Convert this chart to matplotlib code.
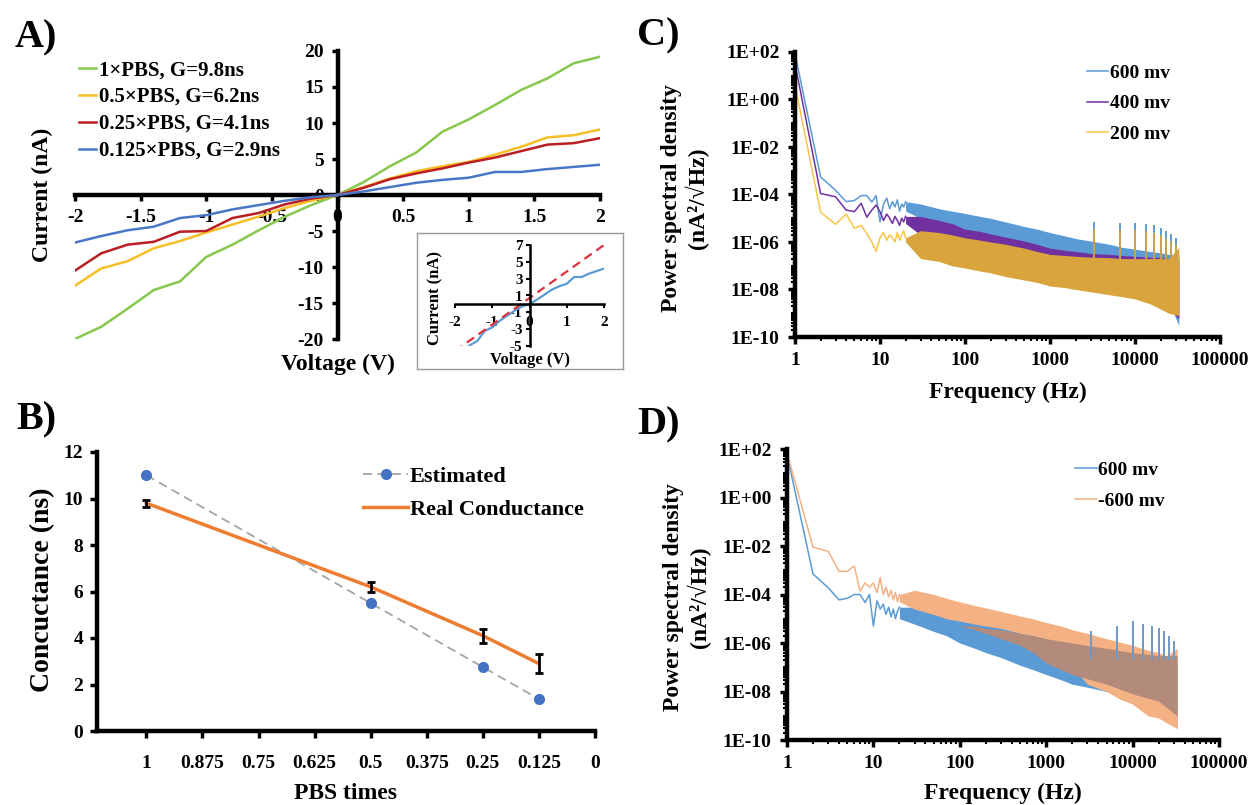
import matplotlib.pyplot as plt
import numpy as np
from matplotlib.ticker import LogLocator, NullFormatter

plt.rcParams['font.family'] = ['Liberation Serif', 'DejaVu Serif']
plt.rcParams['font.weight'] = 'bold'
plt.rcParams['axes.unicode_minus'] = False

# ---------------- A) I-V curves ----------------
volt = [-2, -1.8, -1.6, -1.4, -1.2, -1, -0.8, -0.6, -0.4, -0.2, 0,
        0.2, 0.4, 0.6, 0.8, 1, 1.2, 1.4, 1.6, 1.8, 2]
cur_1x = [-20, -18.3, -15.8, -13.2, -12.0, -8.6, -6.9, -4.9, -3.0, -1.4, 0,
          1.8, 4.0, 5.9, 8.8, 10.5, 12.5, 14.6, 16.2, 18.3, 19.2]
cur_05x = [-12.6, -10.2, -9.2, -7.4, -6.4, -5.2, -4.1, -3.0, -1.8, -0.8, 0,
           1.1, 2.3, 3.3, 4.0, 4.6, 5.6, 6.7, 8.0, 8.3, 9.1]
cur_025x = [-10.5, -8.1, -6.9, -6.5, -5.1, -5.0, -3.2, -2.5, -1.3, -0.5, 0,
            1.0, 2.2, 3.0, 3.7, 4.5, 5.2, 6.1, 7.0, 7.2, 7.9]
cur_0125x = [-6.6, -5.7, -4.9, -4.4, -3.2, -2.8, -2.0, -1.4, -0.8, -0.3, 0,
             0.5, 1.1, 1.7, 2.1, 2.4, 3.2, 3.2, 3.6, 3.9, 4.2]
iv_labels = ['1×PBS, G=9.8ns', '0.5×PBS, G=6.2ns',
             '0.25×PBS, G=4.1ns', '0.125×PBS, G=2.9ns']
iv_colors = ['#86C84E', '#F8BE25', '#BA1E22', '#4A76C6']
volt_ticks = [-2, -1.5, -1, -0.5, 0, 0.5, 1, 1.5, 2]
volt_ticklabels = ['-2', '-1.5', '-1', '-0.5', '0', '0.5', '1', '1.5', '2']
cur_ticks = [-20, -15, -10, -5, 0, 5, 10, 15, 20]

# inset: linear estimate vs 0.125xPBS
fit_volt = [-2, 2]
fit_cur = [-5.6, 7.0]
inset_xticks = [-2, -1, 0, 1, 2]
inset_yticks = [-5, -3, -1, 1, 3, 5, 7]

# ---------------- B) conductance ----------------
pbs = [1, 0.5, 0.25, 0.125]
g_est = [11, 5.5, 2.75, 1.375]
g_real = [9.8, 6.2, 4.1, 2.9]
g_err = [0.15, 0.22, 0.3, 0.4]
pbs_ticks = [1, 0.875, 0.75, 0.625, 0.5, 0.375, 0.25, 0.125, 0]
pbs_ticklabels = ['1', '0.875', '0.75', '0.625', '0.5', '0.375', '0.25', '0.125', '0']

# ---------------- C/D) power spectral density ----------------
f_low = list(range(1, 21))
c600_low = [85, 5.5e-4, 1.5e-4, 5e-5, 5.6e-5, 9e-5, 9e-5, 4.8e-5, 9e-5, 7e-6,
            4e-5, 7e-5, 2.5e-5, 5e-5, 3e-5, 6e-5, 2e-5, 4e-5, 3e-5, 5e-5]
c400_low = [32, 1.1e-4, 8e-5, 2.2e-5, 1.9e-5, 4.3e-5, 1.1e-5, 2.2e-5, 3.6e-5, 1.9e-5,
            8e-6, 1.5e-5, 1e-5, 6e-6, 1.2e-5, 8e-6, 5e-6, 1e-5, 7e-6, 1.2e-5]
c200_low = [4, 1.8e-5, 5.5e-6, 1.5e-5, 3.8e-6, 5e-6, 2.3e-6, 1e-6, 4e-7, 1.5e-6,
            2.5e-6, 1.2e-6, 2e-6, 1.5e-6, 1e-6, 2.5e-6, 1.2e-6, 2e-6, 3e-6, 1.5e-6]

# envelopes of the dense noise from 20 Hz up
band_f = [20, 30, 50, 70, 100, 150, 200, 300, 500, 700, 1000, 1500, 2000,
          3000, 5000, 7000, 10000, 15000, 20000, 25000, 32768]
c600_up = [5e-5, 4e-5, 2.5e-5, 2e-5, 1.6e-5, 1.2e-5, 1e-5, 7e-6, 4.5e-6, 3.5e-6,
           2.5e-6, 1.8e-6, 1.4e-6, 1.1e-6, 8e-7, 6e-7, 5e-7, 4e-7, 3.5e-7, 3e-7, 3e-7]
c600_lo = [2e-5, 1e-5, 6e-6, 4e-6, 3e-6, 2e-6, 1.5e-6, 1e-6, 6e-7, 4e-7,
           2e-7, 1e-7, 6e-8, 4e-8, 2.5e-8, 2e-8, 1.5e-8, 1e-8, 6e-9, 3e-9, 3e-10]
c400_up = [1.2e-5, 1.2e-5, 8e-6, 6e-6, 3.5e-6, 2.8e-6, 2.2e-6, 1.6e-6, 1.1e-6, 8e-7,
           5.5e-7, 4.5e-7, 4e-7, 3.3e-7, 3e-7, 2.7e-7, 2.5e-7, 2.3e-7, 2.2e-7, 2e-7, 2e-7]
c400_lo = [6e-6, 2e-6, 5e-7, 3e-7, 2e-7, 1.5e-7, 1.2e-7, 8e-8, 6e-8, 4e-8,
           3e-8, 2.5e-8, 2e-8, 1.6e-8, 1.2e-8, 1e-8, 8e-9, 5e-9, 3e-9, 1.5e-9, 6e-10]
c200_up = [1.5e-6, 3e-6, 2.5e-6, 2e-6, 1.5e-6, 1.2e-6, 1e-6, 8e-7, 5.5e-7, 4e-7,
           3e-7, 2.7e-7, 2.5e-7, 2.3e-7, 2.2e-7, 2e-7, 2e-7, 2e-7, 2e-7, 2e-7, 6e-7]
c200_lo = [1e-6, 2e-7, 1.5e-7, 1e-7, 8e-8, 6e-8, 5e-8, 3.5e-8, 2.5e-8, 2e-8,
           1.4e-8, 1.2e-8, 1e-8, 8e-9, 6e-9, 5e-9, 4e-9, 2.5e-9, 1.5e-9, 1e-9, 8e-10]
spike_f = [3330, 6660, 10000, 13300, 16600, 20000, 23300, 26600, 30000]
c_spike_top = [7e-6, 6.6e-6, 6.6e-6, 6e-6, 5e-6, 3.8e-6, 2.8e-6, 2.2e-6, 1.5e-6]

d600_low = [60, 7e-4, 1.9e-4, 6e-5, 7e-5, 1e-4, 1e-4, 4.7e-5, 1e-4, 5e-6,
            5.5e-5, 2.5e-5, 4e-5, 1.5e-5, 3e-5, 1.2e-5, 2.5e-5, 1e-5, 2e-5, 3e-5]
dm600_low = [70, 9e-3, 6e-3, 9e-4, 9e-4, 1.5e-3, 1.4e-4, 3e-4, 2e-4, 3e-4,
             1.2e-4, 5e-4, 1e-4, 2e-4, 8e-5, 1.5e-4, 6e-5, 1.2e-4, 5e-5, 1e-4]
d600_up = [3e-5, 3e-5, 2.5e-5, 2e-5, 1.5e-5, 1e-5, 8e-6, 5e-6, 3e-6, 2.5e-6,
           1.8e-6, 1.3e-6, 1e-6, 7e-7, 5e-7, 4e-7, 3e-7, 2.5e-7, 2e-7, 1.8e-7, 1.5e-7]
d600_lo = [1e-5, 6e-6, 3e-6, 2e-6, 1e-6, 6e-7, 4e-7, 2.5e-7, 1.2e-7, 8e-8,
           5e-8, 3e-8, 2e-8, 1.5e-8, 1e-8, 7e-9, 5e-9, 3e-9, 2e-9, 1e-9, 3e-10]
dm600_up = [1e-4, 1.5e-4, 1e-4, 7e-5, 5e-5, 3.5e-5, 2.8e-5, 2e-5, 1.3e-5, 1e-5,
            7e-6, 5e-6, 3.5e-6, 2.5e-6, 1.5e-6, 1.1e-6, 8e-7, 5e-7, 4e-7, 3e-7, 6e-7]
dm600_lo = [5e-5, 2.5e-5, 1.5e-5, 1e-5, 8e-6, 6e-6, 5e-6, 4e-6, 2.5e-6, 2e-6,
            1.5e-6, 5e-7, 1e-7, 2e-8, 1e-8, 5e-9, 3e-9, 1e-9, 8e-10, 5e-10, 3e-10]
core_f = [100, 150, 200, 300, 500, 700, 1000, 2000, 5000, 10000, 20000, 32768]
d_core_up = [5e-6, 5e-6, 4e-6, 3.5e-6, 2.5e-6, 2e-6, 1.5e-6, 1e-6, 6e-7, 4e-7, 3e-7, 3e-7]
d_core_lo = [5e-6, 3.5e-6, 2.5e-6, 1.5e-6, 8e-7, 4e-7, 1.5e-7, 5e-8, 2e-8, 8e-9, 4e-9, 1e-9]
d_spike_top = [3e-6, 5e-6, 8e-6, 6e-6, 5e-6, 4e-6, 3e-6, 2e-6, 1.2e-6]

freq_ticks = [1, 10, 100, 1000, 10000, 100000]
freq_ticklabels = ['1', '10', '100', '1000', '10000', '100000']
psd_ticks = [1e2, 1, 1e-2, 1e-4, 1e-6, 1e-8, 1e-10]
psd_ticklabels = ['1E+02', '1E+00', '1E-02', '1E-04', '1E-06', '1E-08', '1E-10']

# ---------------- figure ----------------
W, H = 1251, 805
fig = plt.figure(figsize=(W / 100, H / 100), dpi=100)


def rect(l, t, r, b):
    return [l / W, 1 - b / H, (r - l) / W, (b - t) / H]


def ftext(x, y, s, **kw):
    fig.text(x / W, 1 - y / H, s, ha='center', va='center', fontweight='bold', **kw)


# A) main I-V
axA = fig.add_axes(rect(75, 51, 600, 339))
for cur, lab, col in zip([cur_1x, cur_05x, cur_025x, cur_0125x], iv_labels, iv_colors):
    axA.plot(volt, cur, color=col, lw=1.8, label=lab, zorder=3)
axA.set_xlim(-2, 2)
axA.set_ylim(-20, 20)
axA.spines['left'].set_position(('data', 0))
axA.spines['bottom'].set_position(('data', 0))
axA.spines[['right', 'top']].set_visible(False)
axA.spines[['left', 'bottom']].set_linewidth(3.2)
axA.set_xticks(volt_ticks)
axA.set_xticklabels(volt_ticklabels)
axA.set_yticks(cur_ticks)
axA.tick_params(length=4, width=2.5, labelsize=14, pad=6)
axA.legend(loc='upper left', bbox_to_anchor=(0.008, 0.968), frameon=False, fontsize=15,
           handlelength=0.8, handletextpad=0.15, labelspacing=0.33, borderpad=0,
           borderaxespad=0)
ftext(42, 195, 'Current (nA)', rotation=90, fontsize=17)
ftext(338, 364, 'Voltage (V)', fontsize=17)
ftext(36, 38, 'A)', fontsize=29)

# inset
frame = fig.add_axes(rect(417, 233, 623, 369))
frame.set_xticks([])
frame.set_yticks([])
for s in frame.spines.values():
    s.set_color('#9A9A9A')
    s.set_linewidth(1)
axI = fig.add_axes(rect(455, 245, 604, 346))
axI.patch.set_alpha(0)
axI.plot(volt, cur_0125x, color='#5B9BD5', lw=1.6)
axI.plot(fit_volt, fit_cur, color='#E0323C', lw=1.6, ls=(0, (4, 2.5)))
axI.set_xlim(-2, 2)
axI.set_ylim(-5, 7)
axI.spines['left'].set_position(('data', 0))
axI.spines['bottom'].set_position(('data', 0))
axI.spines[['right', 'top']].set_visible(False)
axI.spines[['left', 'bottom']].set_linewidth(1.8)
axI.set_xticks(inset_xticks)
axI.set_yticks(inset_yticks)
axI.tick_params(length=3, width=1.5, labelsize=11, pad=2)
axI.tick_params(axis='x', pad=6)
ftext(435, 298, 'Current (nA)', rotation=90, fontsize=12)
ftext(530, 360, 'Voltage (V)', fontsize=12)

# B) conductance
axB = fig.add_axes(rect(97, 452, 595, 731))
axB.plot(pbs, g_est, color='#A5A5A5', lw=1.3, ls=(0, (5, 3)), marker='o', ms=7,
         mfc='#4472C4', mec='#4472C4', label='Estimated')
axB.plot(pbs, g_real, color='#ED7D31', lw=2.5, label='Real Conductance')
axB.errorbar(pbs, g_real, yerr=g_err, fmt='none', ecolor='black', elinewidth=2,
             capsize=3, capthick=2)
axB.set_xlim(1.11, 0)
axB.set_ylim(0, 12)
axB.set_xticks(pbs_ticks)
axB.set_xticklabels(pbs_ticklabels)
axB.set_yticks(range(0, 13, 2))
axB.spines[['right', 'top']].set_visible(False)
axB.spines[['left', 'bottom']].set_linewidth(3.2)
axB.tick_params(length=5, width=2.5, labelsize=14)
axB.tick_params(axis='x', pad=12)
axB.tick_params(axis='y', pad=5)
axB.legend(loc='upper left', bbox_to_anchor=(0.535, 0.95), frameon=False, fontsize=16,
           handlelength=2.0, handletextpad=0.1, labelspacing=0.57, borderpad=0,
           borderaxespad=0)
ftext(43, 590, 'Concuctance (ns)', rotation=90, fontsize=20)
ftext(346, 793, 'PBS times', fontsize=17)
ftext(36, 420, 'B)', fontsize=29)


def style_psd(ax):
    ax.set_xscale('log')
    ax.set_yscale('log')
    ax.set_xlim(1, 1e5)
    ax.set_ylim(1e-10, 1e2)
    ax.set_xticks(freq_ticks)
    ax.set_xticklabels(freq_ticklabels)
    ax.set_yticks(psd_ticks)
    ax.set_yticklabels(psd_ticklabels)
    ax.xaxis.set_minor_locator(LogLocator(base=10, subs=np.arange(2, 10), numticks=60))
    ax.yaxis.set_minor_locator(LogLocator(base=10, subs=np.arange(1, 10), numticks=200))
    ax.xaxis.set_minor_formatter(NullFormatter())
    ax.yaxis.set_minor_formatter(NullFormatter())
    ax.spines[['right', 'top']].set_visible(False)
    ax.spines[['left', 'bottom']].set_linewidth(3.2)
    ax.tick_params(which='major', length=5, width=2.5, labelsize=14, pad=6)
    ax.tick_params(which='minor', length=3, width=1.5)


# C) PSD at three voltages
axC = fig.add_axes(rect(795, 52, 1220, 337))
for low, up, lo, col, band_col, lab in [
        (c600_low, c600_up, c600_lo, '#5B9BD5', '#5B9BD5', '600 mv'),
        (c400_low, c400_up, c400_lo, '#7030A0', '#7030A0', '400 mv'),
        (c200_low, c200_up, c200_lo, '#F7C548', '#D9A43C', '200 mv')]:
    axC.plot(f_low, low, color=col, lw=1.1, label=lab)
    axC.fill_between(band_f, lo, up, color=band_col, lw=0)
axC.vlines(spike_f, 2e-7, c_spike_top, color='#5B9BD5', lw=1.4)
axC.vlines(spike_f, 2e-7, [v * 0.5 for v in c_spike_top], color='#C9A24E', lw=1.4)
style_psd(axC)
axC.legend(loc='upper left', bbox_to_anchor=(0.687, 0.958), frameon=False, fontsize=14,
           handlelength=1.1, handletextpad=0.1, labelspacing=0.68, borderpad=0,
           borderaxespad=0)
ftext(685, 198, 'Power spectral density\n(nA²/√Hz)', rotation=90, fontsize=17,
      linespacing=1.15)
ftext(1008, 392, 'Frequency (Hz)', fontsize=17)
ftext(658, 36, 'C)', fontsize=29)

# D) PSD at +/-600 mV
axD = fig.add_axes(rect(787, 449, 1219, 740))
axD.plot(f_low, d600_low, color='#5B9BD5', lw=1.1, label='600 mv')
axD.plot(f_low, dm600_low, color='#F4B183', lw=1.1, label='-600 mv')
axD.fill_between(band_f, d600_lo, d600_up, color='#5B9BD5', lw=0)
axD.fill_between(band_f, dm600_lo, dm600_up, color='#F4B183', lw=0)
axD.fill_between(core_f, d_core_lo, d_core_up, color='#B38B7C', lw=0)
axD.vlines(spike_f, 2e-7, d_spike_top, color='#6F98C4', lw=1.4)
style_psd(axD)
axD.legend(loc='upper left', bbox_to_anchor=(0.667, 0.958), frameon=False, fontsize=14,
           handlelength=1.1, handletextpad=0.1, labelspacing=0.68, borderpad=0,
           borderaxespad=0)
ftext(687, 597, 'Power spectral density\n(nA²/√Hz)', rotation=90, fontsize=17,
      linespacing=1.15)
ftext(1003, 793, 'Frequency (Hz)', fontsize=17)
ftext(658, 425, 'D)', fontsize=29)

fig.savefig('out.png', dpi=100)
